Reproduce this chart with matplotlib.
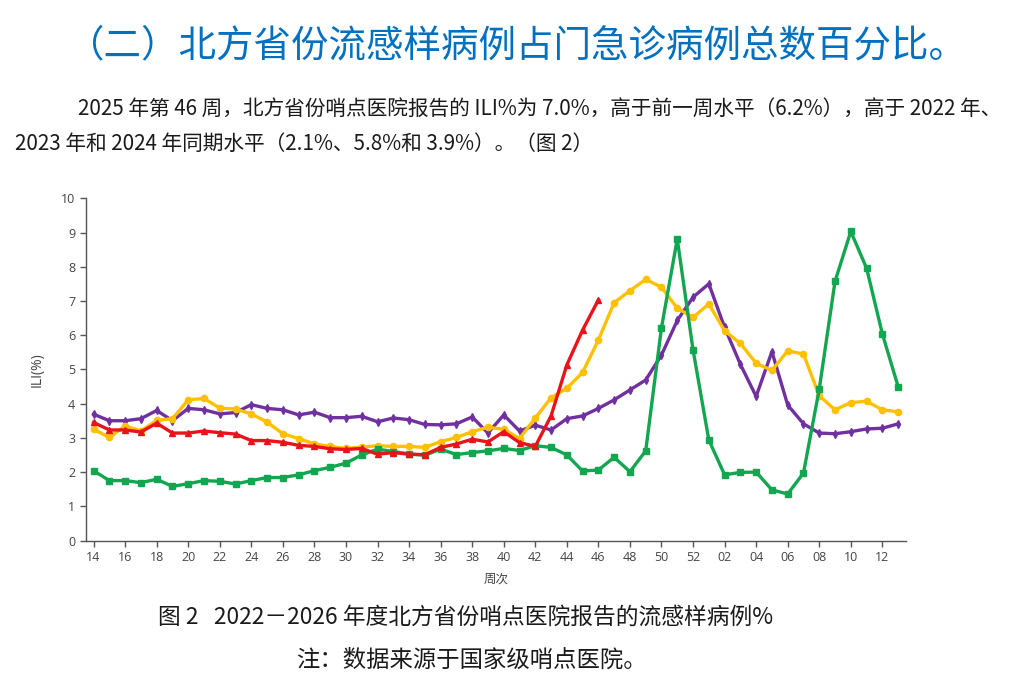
import matplotlib
matplotlib.use("Agg")
import matplotlib.pyplot as plt

plt.rcParams['font.family'] = ['Noto Sans CJK SC', 'DejaVu Sans']

weeks = [str(w) for w in range(14, 53)] + ["%02d" % w for w in range(1, 14)]

ili_2022_23 = [2.04, 1.75, 1.75, 1.69, 1.79, 1.58, 1.66, 1.75, 1.73, 1.65,
               1.75, 1.84, 1.84, 1.92, 2.04, 2.14, 2.26, 2.50, 2.67, 2.60,
               2.53, 2.49, 2.67, 2.51, 2.57, 2.62, 2.69, 2.63, 2.77, 2.72,
               2.50, 2.03, 2.06, 2.43, 2.01, 2.62, 6.22, 8.81, 5.57, 2.94,
               1.92, 1.99, 2.00, 1.48, 1.36, 1.97, 4.42, 7.57, 9.03, 7.96,
               6.04, 4.50]
ili_2023_24 = [3.25, 3.01, 3.35, 3.20, 3.51, 3.56, 4.11, 4.15, 3.87, 3.84,
               3.70, 3.46, 3.12, 2.98, 2.82, 2.75, 2.69, 2.73, 2.77, 2.75,
               2.75, 2.72, 2.89, 3.01, 3.18, 3.31, 3.25, 2.98, 3.58, 4.17,
               4.45, 4.91, 5.86, 6.95, 7.30, 7.63, 7.40, 6.79, 6.52, 6.91,
               6.13, 5.76, 5.18, 4.97, 5.54, 5.45, 4.23, 3.82, 4.03, 4.07,
               3.82, 3.76]
ili_2024_25 = [3.69, 3.50, 3.50, 3.56, 3.80, 3.50, 3.86, 3.82, 3.70, 3.74,
               3.97, 3.86, 3.82, 3.67, 3.75, 3.59, 3.59, 3.63, 3.47, 3.58,
               3.53, 3.39, 3.38, 3.41, 3.61, 3.14, 3.67, 3.20, 3.37, 3.23,
               3.56, 3.64, 3.86, 4.11, 4.40, 4.69, 5.42, 6.43, 7.11, 7.50,
               6.23, 5.15, 4.21, 5.52, 3.96, 3.41, 3.14, 3.12, 3.18, 3.26,
               3.28, 3.41]
ili_2025_26 = [3.45, 3.23, 3.23, 3.17, 3.43, 3.14, 3.14, 3.20, 3.15, 3.11,
               2.92, 2.92, 2.87, 2.78, 2.75, 2.68, 2.66, 2.69, 2.52, 2.57,
               2.52, 2.51, 2.72, 2.82, 2.96, 2.88, 3.18, 2.86, 2.75, 3.64,
               5.13, 6.15, 7.03]

yticks = list(range(0, 11))

W, H = 1016, 686
fig = plt.figure(figsize=(W / 100, H / 100), dpi=100)
ax = fig.add_axes([85.7 / W, 1 - 540.5 / H, (906 - 85.7) / W, (540.5 - 198.3) / H])

x = list(range(len(weeks)))
lw = 2.4
ax.plot(x, ili_2024_25, color='#7030A0', lw=lw, marker='d', ms=4, zorder=3)
ax.plot(x, ili_2023_24, color='#FFC000', lw=lw, marker='o', ms=4.5, zorder=4)
ax.plot(x, ili_2022_23, color='#12A650', lw=lw, marker='s', ms=4.5, zorder=5)
ax.plot(x[:len(ili_2025_26)], ili_2025_26, color='#E8141B', lw=lw, marker='^', ms=4.5, zorder=6)

ax.set_xlim(-0.5, 51.5)
ax.set_ylim(0, 10)
ax.set_xticks(x[::2])
ax.set_xticklabels(weeks[::2])
ax.set_yticks(yticks)
for s in ['top', 'right']:
    ax.spines[s].set_visible(False)
for s in ['left', 'bottom']:
    ax.spines[s].set_color('#555555')
    ax.spines[s].set_linewidth(1.0)
ax.tick_params(axis='both', colors='#555555', labelcolor='#444444', labelsize=9,
               length=4, width=1.0, direction='out')
for lab in ax.get_xticklabels() + ax.get_yticklabels():
    lab.set_family(['Open Sans', 'DejaVu Sans'])
ax.set_xlabel('周次', fontsize=9, color='#444444', labelpad=6)
ax.set_ylabel('ILI(%)', fontsize=10, color='#444444', labelpad=12,
              family=['Open Sans', 'DejaVu Sans'])

def px(xp, yp):
    return xp / W, 1 - yp / H

fig.text(*px(517, 46), '（二）北方省份流感样病例占门急诊病例总数百分比。',
         ha='center', va='center', fontsize=27, color='#0070C0')
fig.text(*px(78, 109), '2025 年第 46 周，北方省份哨点医院报告的 ILI%为 7.0%，高于前一周水平（6.2%），高于 2022 年、',
         ha='left', va='center', fontsize=14.9, color='#1a1a1a')
fig.text(*px(15, 144), '2023 年和 2024 年同期水平（2.1%、5.8%和 3.9%）。（图 2）',
         ha='left', va='center', fontsize=14.9, color='#1a1a1a')
fig.text(*px(158, 617), '图 2   2022－2026 年度北方省份哨点医院报告的流感样病例%',
         ha='left', va='center', fontsize=16.4, color='#1a1a1a')
fig.text(*px(296, 660), '注：数据来源于国家级哨点医院。',
         ha='left', va='center', fontsize=16.8, color='#1a1a1a')

fig.savefig('out.png', dpi=100)
